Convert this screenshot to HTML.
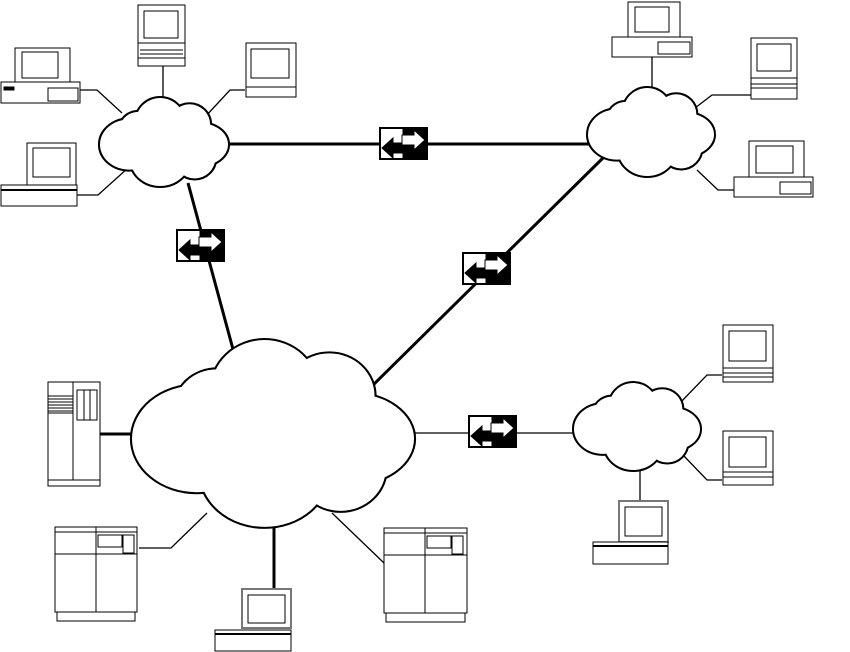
<!DOCTYPE html>
<html><head><meta charset="utf-8"><style>html,body{margin:0;padding:0;background:#fff}svg{display:block}</style></head>
<body>
<svg width="850" height="652" viewBox="0 0 850 652" xmlns="http://www.w3.org/2000/svg">
<defs>
<g id="lobes">
<ellipse cx="23" cy="37" rx="23" ry="20"/>
<ellipse cx="30" cy="26" rx="15" ry="15"/>
<ellipse cx="47" cy="19" rx="19" ry="19"/>
<ellipse cx="70" cy="21" rx="16" ry="16"/>
<ellipse cx="78" cy="37" rx="22" ry="17"/>
<ellipse cx="47" cy="49" rx="23" ry="21"/>
<ellipse cx="74" cy="48" rx="16" ry="16"/>
<ellipse cx="50" cy="35" rx="30" ry="20"/>
</g>
<g id="sw">
<rect x="1" y="1" width="47" height="31" fill="#fff" stroke="#000" stroke-width="2"/>
<rect x="24" y="1" width="24" height="31" fill="#000"/>
<polygon points="3,21 14,11 14,16 26,16 26,26 14,26 14,31" fill="#000"/>
<polygon points="46,13 35,3 35,8 23,8 23,18 35,18 35,23" fill="#fff" stroke="#000" stroke-width="1"/>
</g>
</defs>
<g fill="#fff" stroke="#000">
<g stroke-width="1.3" fill="none">
<polyline points="80,90 97,90 122,113"/>
<polyline points="163,66 163,100"/>
<polyline points="245,90 230,90 205,117"/>
<polyline points="77,195 98,195 128,168"/>
<polyline points="652,57 652,92"/>
<polyline points="751,95 712,95 695,108"/>
<polyline points="734,190 718,190 697,170"/>
<polyline points="722,375 707,375 680,403"/>
<polyline points="722,480 707,480 683,455"/>
<polyline points="640,468 640,501"/>
<polyline points="139,548 171,548 207,513"/>
<polyline points="332,513 384,563"/>
<polyline points="414,433 575,433"/>
</g>
<g stroke-width="3" fill="none">
<line x1="226" y1="144" x2="592" y2="144"/>
<line x1="188" y1="183" x2="237" y2="364"/>
<line x1="606" y1="155" x2="366" y2="392"/>
<line x1="100" y1="434" x2="134" y2="434"/>
<line x1="274" y1="524" x2="274" y2="588"/>
</g>
<!-- clouds -->
<g transform="translate(100,98) scale(1.28,1.257)">
<use href="#lobes" stroke="#000" stroke-width="3.2" style="vector-effect:non-scaling-stroke"/>
<use href="#lobes" stroke="none" fill="#fff"/>
</g>
<g transform="translate(588,88) scale(1.26,1.257)">
<use href="#lobes" stroke="#000" stroke-width="3.2"/>
<use href="#lobes" stroke="none" fill="#fff"/>
</g>
<g transform="translate(132,340) scale(2.82,2.67)">
<use href="#lobes" stroke="#000" stroke-width="1.5"/>
<use href="#lobes" stroke="none" fill="#fff"/>
</g>
<g transform="translate(574,383) scale(1.26,1.243)">
<use href="#lobes" stroke="#000" stroke-width="3.2"/>
<use href="#lobes" stroke="none" fill="#fff"/>
</g>
<use href="#sw" x="379" y="127"/>
<use href="#sw" x="176" y="229"/>
<use href="#sw" x="462" y="252"/>
<use href="#sw" x="468" y="415"/>
<g stroke-width="1">
<rect x="15" y="48" width="55" height="34"/><rect x="22" y="52" width="36" height="26"/>
<rect x="1" y="82" width="79" height="21"/><rect x="48" y="88" width="30" height="13"/><rect x="4" y="87" width="10" height="3" fill="#000"/>
<rect x="138" y="5" width="47" height="61"/><rect x="144" y="11" width="34" height="27"/><line x1="138" y1="43" x2="185" y2="43"/><line x1="140" y1="50" x2="183" y2="50"/><line x1="140" y1="54" x2="183" y2="54"/><line x1="138" y1="58" x2="185" y2="58"/>
<rect x="246" y="43" width="50" height="44"/><rect x="251" y="49" width="38" height="29"/><rect x="246" y="87" width="50" height="10"/>
<rect x="27" y="143" width="49" height="42"/><rect x="33" y="148" width="37" height="29"/><rect x="1" y="185" width="76" height="21"/><line x1="1" y1="190" x2="77" y2="190" stroke-width="2"/>
<rect x="628" y="2" width="52" height="35"/><rect x="635" y="7" width="34" height="25"/><rect x="612" y="37" width="80" height="20"/><rect x="658" y="42" width="32" height="12"/>
<rect x="751" y="38" width="46" height="61"/><rect x="757" y="44" width="34" height="27"/><line x1="751" y1="78" x2="797" y2="78"/><line x1="751" y1="84" x2="797" y2="84"/><line x1="751" y1="88" x2="797" y2="88"/>
<rect x="749" y="141" width="55" height="36"/><rect x="756" y="146" width="37" height="27"/><rect x="734" y="177" width="79" height="20"/><rect x="780" y="182" width="31" height="12"/>
<rect x="723" y="325" width="50" height="57"/><rect x="729" y="331" width="37" height="30"/><line x1="723" y1="368" x2="773" y2="368"/><line x1="723" y1="373" x2="773" y2="373"/><line x1="723" y1="377" x2="773" y2="377"/>
<rect x="723" y="431" width="50" height="54"/><rect x="729" y="437" width="37" height="30"/><line x1="723" y1="472" x2="773" y2="472"/><line x1="723" y1="477" x2="773" y2="477"/>
<rect x="619" y="501" width="49" height="41" stroke="#777" stroke-width="2"/><rect x="625" y="507" width="37" height="29"/><rect x="593" y="542" width="75" height="22"/><line x1="593" y1="546" x2="668" y2="546" stroke-width="2"/>
<rect x="48" y="382" width="52" height="104"/><line x1="73" y1="382" x2="73" y2="480"/><line x1="48" y1="480" x2="100" y2="480"/><rect x="77" y="390" width="20" height="30"/><line x1="84" y1="390" x2="84" y2="420"/><line x1="90" y1="390" x2="90" y2="420"/>
<line x1="48" y1="396" x2="73" y2="396"/><line x1="48" y1="399" x2="73" y2="399"/><line x1="48" y1="402" x2="73" y2="402"/><line x1="48" y1="405" x2="73" y2="405"/><line x1="48" y1="408" x2="73" y2="408"/><line x1="48" y1="411" x2="73" y2="411"/><line x1="48" y1="413" x2="73" y2="413"/>
<rect x="55" y="527" width="82" height="85"/><rect x="57" y="612" width="78" height="9"/><line x1="55" y1="532" x2="137" y2="532"/><line x1="55" y1="554" x2="137" y2="554"/><line x1="96" y1="527" x2="96" y2="612"/><rect x="98" y="535" width="24" height="12"/><rect x="123" y="535" width="11" height="18"/>
<rect x="242" y="589" width="49" height="39" stroke="#777" stroke-width="2"/><rect x="248" y="595" width="37" height="28"/><rect x="215" y="630" width="76" height="21"/><line x1="215" y1="634" x2="291" y2="634" stroke-width="2"/>
<rect x="384" y="528" width="83" height="85"/><rect x="386" y="613" width="79" height="9"/><line x1="384" y1="533" x2="467" y2="533"/><line x1="384" y1="555" x2="467" y2="555"/><line x1="425" y1="528" x2="425" y2="613"/><rect x="427" y="536" width="24" height="12"/><rect x="452" y="536" width="11" height="18"/>
</g>
</g>
</svg>
</body></html>
